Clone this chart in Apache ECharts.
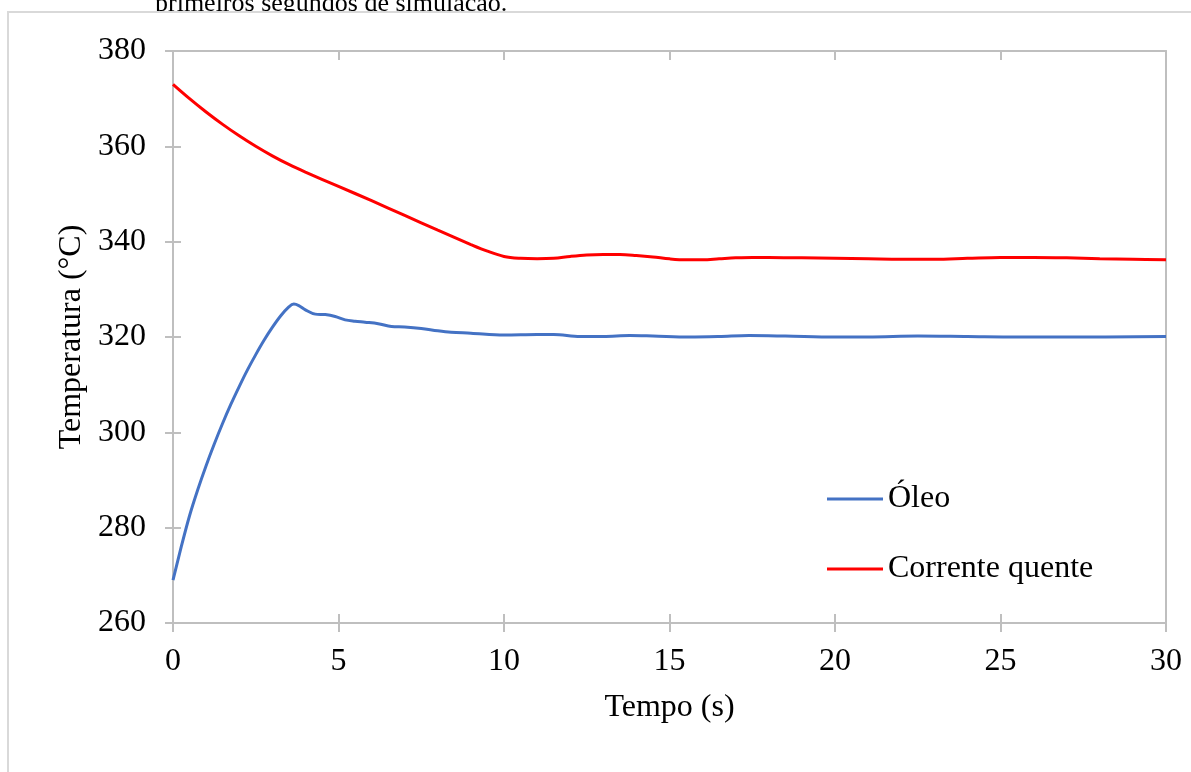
<!DOCTYPE html>
<html>
<head>
<meta charset="utf-8">
<script src="https://cdn.jsdelivr.net/npm/echarts@6/dist/echarts.min.js"></script>
<style>
html,body{margin:0;padding:0;background:#fff;}
#chart{width:1191px;height:772px;}
</style>
</head>
<body>
<div id="chart"></div>
<script>
var xTicks = [0, 5, 10, 15, 20, 25, 30];
var yTicks = [260, 280, 300, 320, 340, 360, 380];
var seriesNames = ['Óleo', 'Corrente quente'];

var oleoTime = [0, 0.25, 0.5, 0.75, 1, 1.25, 1.5, 1.75, 2, 2.25, 2.5, 2.75, 3, 3.25, 3.5, 3.65, 3.8, 4.0, 4.3, 4.6, 4.9, 5.2, 5.5, 5.8, 6.2, 6.6, 7, 7.5, 8, 8.4, 9, 10, 11, 11.5, 12.3, 13, 13.8, 14.5, 15.6, 16.5, 17.4, 18.5, 20, 21, 22.5, 24, 25.5, 27, 30];
var oleoTemp = [269, 276, 282.5, 288, 293, 297.6, 301.9, 305.9, 309.6, 313.1, 316.3, 319.3, 322, 324.4, 326.3, 326.9, 326.6, 325.7, 324.8, 324.7, 324.3, 323.6, 323.3, 323.1, 322.8, 322.2, 322.1, 321.8, 321.3, 321.0, 320.8, 320.4, 320.5, 320.5, 320.1, 320.1, 320.3, 320.2, 320.0, 320.1, 320.3, 320.2, 320.0, 320.0, 320.2, 320.1, 320.0, 320.0, 320.1];

var correnteTime = [0, 0.5, 1, 1.5, 2, 2.5, 3, 3.5, 4, 5, 6, 7, 8, 9, 9.5, 10, 10.5, 11, 11.5, 12, 12.5, 13, 13.5, 14, 14.5, 15, 15.5, 16, 16.5, 17, 17.5, 18, 19, 20, 21, 22, 23, 24, 25, 25.5, 26, 27, 28, 29, 30];
var correnteTemp = [373, 370, 367.2, 364.6, 362.2, 360, 358, 356.2, 354.6, 351.6, 348.6, 345.5, 342.4, 339.4, 338.0, 336.9, 336.5, 336.4, 336.5, 336.9, 337.2, 337.3, 337.3, 337.1, 336.8, 336.4, 336.2, 336.2, 336.4, 336.6, 336.7, 336.7, 336.6, 336.5, 336.4, 336.3, 336.3, 336.5, 336.7, 336.7, 336.7, 336.6, 336.4, 336.3, 336.2];

function pairs(xs, ys) {
  var out = [];
  for (var i = 0; i < xs.length; i++) out.push([xs[i], ys[i]]);
  return out;
}

var FONT = '"Liberation Serif", "Times New Roman", serif';
var GRID = '#bfbfbf';

var chart = echarts.init(document.getElementById('chart'), null, {renderer: 'canvas'});
var xBase = {
  type: 'value', min: xTicks[0], max: xTicks[xTicks.length - 1], interval: 5,
  gridIndex: 0
};
var yBase = {
  type: 'value', min: yTicks[0], max: yTicks[yTicks.length - 1], interval: 20,
  gridIndex: 0
};
chart.setOption({
  animation: false,
  backgroundColor: '#fff',
  textStyle: {fontFamily: FONT},
  grid: {left: 173, right: 25, top: 51, bottom: 149, containLabel: false},
  graphic: [
    {type: 'text', z: -10, left: 155, top: -9,
     style: {text: 'primeiros segundos de simulação.', fontFamily: FONT, fontSize: 26, fill: '#000'}},
    {type: 'rect', z: -5, shape: {x: 8, y: 12, width: 1400, height: 1000},
     style: {fill: '#fff', stroke: '#d9d9d9', lineWidth: 2}}
  ],
  xAxis: [
    Object.assign({}, xBase, {
      position: 'bottom',
      axisLine: {show: true, onZero: false, lineStyle: {color: GRID, width: 2}},
      axisTick: {show: true, inside: false, length: 9, lineStyle: {color: GRID, width: 2}},
      splitLine: {show: false},
      axisLabel: {show: true, margin: 23, fontSize: 32, color: '#000', fontFamily: FONT,
        formatter: function (v) { return xTicks.indexOf(v) >= 0 ? String(v) : ''; }},
      name: 'Tempo (s)', nameLocation: 'middle', nameGap: 69,
      nameTextStyle: {fontSize: 32, color: '#000', fontFamily: FONT}
    }),
    Object.assign({}, xBase, {
      position: 'bottom',
      axisLine: {show: false, onZero: false},
      axisTick: {show: true, inside: true, length: 9, lineStyle: {color: GRID, width: 2}},
      splitLine: {show: false}, axisLabel: {show: false}
    }),
    Object.assign({}, xBase, {
      position: 'top',
      axisLine: {show: true, onZero: false, lineStyle: {color: GRID, width: 2}},
      axisTick: {show: true, inside: true, length: 9, lineStyle: {color: GRID, width: 2}},
      splitLine: {show: false}, axisLabel: {show: false}
    })
  ],
  yAxis: [
    Object.assign({}, yBase, {
      position: 'left',
      axisLine: {show: true, onZero: false, lineStyle: {color: GRID, width: 2}},
      axisTick: {show: true, inside: false, length: 8, lineStyle: {color: GRID, width: 2}},
      splitLine: {show: false},
      axisLabel: {show: true, margin: 27, fontSize: 32, color: '#000', fontFamily: FONT,
        formatter: function (v) { return yTicks.indexOf(v) >= 0 ? String(v) : ''; }},
      name: 'Temperatura (°C)', nameLocation: 'middle', nameGap: 78, nameRotate: 90,
      nameTextStyle: {fontSize: 32, color: '#000', fontFamily: FONT}
    }),
    Object.assign({}, yBase, {
      position: 'left',
      axisLine: {show: false, onZero: false},
      axisTick: {show: true, inside: true, length: 8, lineStyle: {color: GRID, width: 2}},
      splitLine: {show: false}, axisLabel: {show: false}
    }),
    Object.assign({}, yBase, {
      position: 'right',
      axisLine: {show: true, onZero: false, lineStyle: {color: GRID, width: 2}},
      axisTick: {show: false}, splitLine: {show: false}, axisLabel: {show: false}
    })
  ],
  legend: {
    orient: 'vertical', left: 827, top: 483, padding: 0,
    itemWidth: 56, itemHeight: 3, itemGap: 38, icon: 'rect',
    data: seriesNames,
    textStyle: {fontSize: 32, lineHeight: 32, color: '#000', fontFamily: FONT}
  },
  series: [
    {name: seriesNames[0], type: 'line', xAxisIndex: 0, yAxisIndex: 0,
     data: pairs(oleoTime, oleoTemp), smooth: 0.35, showSymbol: false, symbol: 'none',
     lineStyle: {color: '#4472C4', width: 3}, itemStyle: {color: '#4472C4'}},
    {name: seriesNames[1], type: 'line', xAxisIndex: 0, yAxisIndex: 0,
     data: pairs(correnteTime, correnteTemp), smooth: 0.35, showSymbol: false, symbol: 'none',
     lineStyle: {color: '#FF0000', width: 3}, itemStyle: {color: '#FF0000'}}
  ]
});
</script>
</body>
</html>
